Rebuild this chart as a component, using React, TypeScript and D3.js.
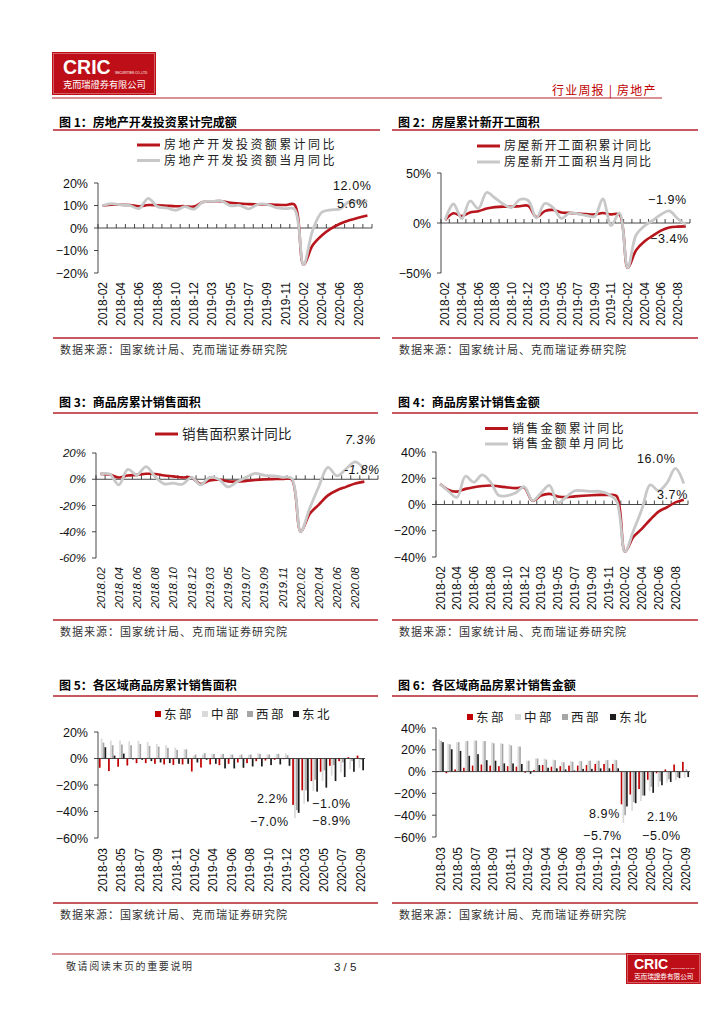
import React from 'react';
import * as d3 from 'd3';

const LINE_RED = '#B5222A';
const SERIES_RED = '#B8161D';
const SERIES_GRAY = '#C8C8C8';
const BAR_RED = '#C00000';
const BAR_LG = '#DADADA';
const BAR_MG = '#A6A6A6';
const BAR_BK = '#1C1C1C';
const LOGO_RED = '#BE0F18';

const CJK = '"Noto Sans CJK SC", "Noto Sans", sans-serif';
const NUM = '"Liberation Sans", Arial, sans-serif';

// ---------- categories ----------
const lineMonths = [
  '2018-02', '2018-03', '2018-04', '2018-05', '2018-06', '2018-07', '2018-08', '2018-09', '2018-10', '2018-11', '2018-12',
  '2019-02', '2019-03', '2019-04', '2019-05', '2019-06', '2019-07', '2019-08', '2019-09', '2019-10', '2019-11', '2019-12',
  '2020-02', '2020-03', '2020-04', '2020-05', '2020-06', '2020-07', '2020-08', '2020-09',
];
const barMonths = [
  '2018-03', '2018-04', '2018-05', '2018-06', '2018-07', '2018-08', '2018-09', '2018-10', '2018-11', '2018-12',
  '2019-02', '2019-03', '2019-04', '2019-05', '2019-06', '2019-07', '2019-08', '2019-09', '2019-10', '2019-11', '2019-12',
  '2020-02', '2020-03', '2020-04', '2020-05', '2020-06', '2020-07', '2020-08', '2020-09',
];

// ---------- chart 1: investment ----------
const invCum = [9.9, 10.4, 10.3, 10.2, 9.7, 10.2, 10.1, 9.9, 9.7, 9.7, 9.5, 11.6, 11.8, 11.9, 11.2, 10.9, 10.6, 10.5, 10.5, 10.3, 10.2, 10.4, -16.3, -7.7, -3.3, -0.3, 1.9, 3.4, 4.6, 5.6];
const invMonth = [9.9, 10.8, 10.3, 10.0, 8.6, 13.2, 9.5, 8.9, 7.9, 9.5, 8.4, 11.6, 11.8, 12.1, 9.9, 10.1, 8.5, 10.5, 10.5, 9.1, 8.6, 8.4, -16.3, -1.1, 7.0, 8.1, 8.5, 11.7, 11.8, 12.0];
const ticks1 = [20, 10, 0, -10, -20];

// ---------- chart 2: new starts ----------
const startCum = [2.9, 9.7, 7.0, 10.5, 11.8, 14.4, 15.9, 16.4, 16.3, 16.8, 17.2, 6.0, 11.9, 13.1, 10.5, 10.1, 9.5, 8.9, 8.6, 10.0, 8.6, 8.5, -44.9, -27.2, -18.4, -12.8, -7.6, -4.5, -3.6, -3.4];
const startMonth = [2.9, 19.0, 4.4, 22.0, 14.5, 30.5, 25.0, 19.0, 15.5, 23.5, 22.5, 5.0, 19.5, 15.5, 4.5, 10.0, 9.0, 7.5, 6.5, 24.0, -2.5, 10.0, -44.9, -12.0, -3.0, 2.5, 8.5, 12.0, 4.5, -1.9];
const ticks2 = [50, 0, -50];

// ---------- chart 3: sales area ----------
const areaCum = [4.1, 3.6, 1.3, 2.9, 3.3, 4.2, 4.0, 2.9, 2.2, 1.4, 1.3, -3.6, -0.9, -0.3, -1.6, -1.8, -1.3, -0.6, -0.1, 0.1, 0.2, -0.1, -39.9, -26.3, -19.3, -12.3, -8.4, -5.8, -3.3, -1.8];
const areaMonth = [4.1, 4.0, -4.3, 7.5, 3.3, 9.6, 2.0, -3.5, -3.0, -3.8, 1.5, -4.3, 1.5, 0.0, -5.8, -2.0, 1.5, 4.5, 3.0, 2.5, 1.5, 0.8, -39.9, -22.0, -5.5, 9.0, 2.5, 8.0, 13.3, 7.3];
const ticks3 = [20, 0, -20, -40, -60];

// ---------- chart 4: sales amount ----------
const amtCum = [15.6, 11.0, 9.8, 11.9, 13.2, 14.1, 14.5, 13.8, 13.0, 12.5, 12.8, 2.8, 6.8, 8.1, 6.1, 5.6, 6.2, 6.7, 7.1, 7.3, 7.3, 6.5, -35.9, -24.7, -18.6, -11.6, -5.4, -2.1, 1.6, 3.7];
const amtMonth = [15.6, 10.0, 5.5, 21.5, 17.0, 22.5, 17.0, 6.8, 6.8, 9.0, 13.5, 3.0, 8.8, 14.5, 1.3, 5.8, 10.5, 10.5, 10.0, 10.0, 8.0, 2.5, -35.9, -20.0, -3.8, 15.0, 10.5, 16.5, 27.5, 16.0];
const ticks4 = [40, 20, 0, -20, -40];

// ---------- chart 5: regional sales area ----------
const east5 = [-7.0, -9.5, -6.2, -5.3, -3.5, -3.5, -4.0, -4.5, -4.8, -4.5, -9.8, -6.8, -4.5, -5.0, -4.0, -3.0, -3.5, -2.0, -1.5, -1.0, -0.5, -35.0, -24.0, -17.0, -10.0, -5.5, -2.0, 1.0, 2.2];
const central5 = [15.0, 13.5, 13.5, 13.0, 13.5, 12.5, 11.0, 10.0, 8.3, 7.0, 2.0, 3.0, 3.5, 3.0, 3.0, 2.5, 3.0, 4.0, 3.0, 3.5, 4.0, -45.0, -34.0, -24.5, -17.0, -13.0, -10.5, -8.0, -7.0];
const west5 = [12.0, 10.0, 10.5, 10.0, 11.0, 9.5, 9.0, 8.0, 6.5, 6.9, 3.0, 4.0, 3.5, 3.5, 3.0, 3.0, 3.0, 3.5, 3.0, 3.5, 2.5, -39.0, -24.0, -16.0, -9.0, -5.0, -3.0, -2.0, -1.0];
const ne5 = [8.5, 2.2, 3.7, -0.7, -1.0, -2.0, -3.0, -3.5, -4.0, -4.0, -3.0, -1.0, -4.0, -7.5, -7.5, -7.0, -6.0, -6.0, -5.0, -4.5, -5.5, -41.0, -32.5, -25.0, -22.0, -17.0, -14.0, -10.0, -8.9];
const ticks5 = [20, 0, -20, -40, -60];

// ---------- chart 6: regional sales amount ----------
const east6 = [-0.5, -1.5, 2.0, 3.5, 5.5, 6.5, 5.5, 5.0, 5.0, 4.5, -1.0, 1.5, 6.0, 4.5, 5.0, 5.5, 5.5, 6.0, 7.0, 7.0, 7.0, -30.0, -21.0, -16.0, -7.5, -1.5, 2.0, 6.5, 8.9];
const central6 = [29.5, 25.5, 27.0, 28.0, 28.5, 28.0, 27.0, 26.0, 25.0, 23.0, 10.0, 12.0, 12.0, 11.0, 9.0, 9.5, 10.0, 10.0, 10.0, 10.5, 11.0, -47.0, -36.0, -27.0, -18.0, -14.0, -10.0, -8.0, -5.7];
const west6 = [28.0, 25.0, 27.0, 28.0, 28.5, 28.0, 26.0, 25.5, 24.0, 23.0, 10.0, 12.0, 11.0, 10.5, 8.5, 9.0, 9.5, 10.0, 10.0, 10.5, 10.5, -40.0, -28.0, -22.0, -14.0, -9.0, -7.0, -5.0, 2.1];
const ne6 = [27.0, 20.5, 19.0, 14.5, 16.0, 10.5, 10.0, 7.5, 7.5, 7.0, -2.0, 6.0, 3.5, 3.0, 2.0, 1.0, 2.5, 2.5, 3.0, 3.0, 3.0, -32.0, -29.0, -22.0, -19.5, -12.5, -9.5, -6.0, -5.0];
const ticks6 = [40, 20, 0, -20, -40, -60];

const regions = ['东部', '中部', '西部', '东北'];
const regionColors = [BAR_RED, BAR_LG, BAR_MG, BAR_BK];

const pctLabel = (v: number) => (v < 0 ? '\u2212' + Math.abs(v) : String(v)) + '%';
const pctHyphen = (v: number) => (v < 0 ? '-' + Math.abs(v) : String(v)) + '%';

type Series = { values: number[]; color: string };
type Ann = { text: string; x: number; y: number };

function LineChart(p: {
  x0: number; x1: number; slots: number; yTop: number; yBottom: number;
  domain: [number, number]; ticks: number[]; fmt: (v: number) => string;
  cats: string[]; dotted?: boolean; italic?: boolean;
  series: Series[]; anns: Ann[];
}) {
  const x = d3.scaleBand<number>().domain(d3.range(p.slots)).range([p.x0, p.x1]);
  const y = d3.scaleLinear().domain(p.domain).range([p.yBottom, p.yTop]);
  const cx = (i: number) => (x(i) as number) + x.bandwidth() / 2;
  const line = d3.line<number>().x((_, i) => cx(i)).y((d) => y(d)).curve(d3.curveCatmullRom.alpha(0.5));
  const y0 = y(0);
  const style = p.italic ? 'italic' : 'normal';
  const boundaries = d3.range(p.slots + 1).map((i) => (i < p.slots ? (x(i) as number) : p.x1));
  return (
    <g>
      <line x1={p.x0} x2={p.x0} y1={p.yTop} y2={p.yBottom} stroke="#333" strokeWidth={0.9} />
      {p.ticks.map((t) => (
        <g key={t}>
          <line x1={p.x0 - 4} x2={p.x0} y1={y(t)} y2={y(t)} stroke="#333" strokeWidth={0.9} />
          <text x={p.x0 - 10} y={y(t)} dy="0.36em" textAnchor="end" fontFamily={NUM} fontSize={p.italic ? 11.5 : 12.5} fontStyle={style} fill="#111">
            {p.fmt(t)}
          </text>
        </g>
      ))}
      <line x1={p.x0} x2={p.x1} y1={y0} y2={y0} stroke="#333" strokeWidth={0.9} />
      {boundaries.map((bx, i) => (
        <line key={i} x1={bx} x2={bx} y1={y0 - 4} y2={y0} stroke="#333" strokeWidth={0.9} />
      ))}
      {p.cats.map((c, i) =>
        i % 2 === 0 ? (
          <text key={c} transform={`translate(${cx(i)},${p.yBottom + 9}) rotate(-90)`} textAnchor="end" dy="0.36em"
            fontFamily={NUM} fontSize={p.italic ? 11.5 : 12} fontStyle={style} fill="#111">
            {p.dotted ? c.replace('-', '.') : c}
          </text>
        ) : null,
      )}
      {p.series.map((s, k) => (
        <path key={k} d={line(s.values) || ''} fill="none" stroke={s.color} strokeWidth={k === 0 ? 2.6 : 2.8} strokeLinejoin="round" />
      ))}
      {p.anns.map((a, k) => (
        <text key={k} x={a.x} y={a.y} fontFamily={NUM} fontSize={12.5} fontStyle={style} letterSpacing={0.6} fill="#111">
          {a.text}
        </text>
      ))}
    </g>
  );
}

function BarChart(p: {
  x0: number; x1: number; yTop: number; yBottom: number; domain: [number, number];
  ticks: number[]; cats: string[]; series: number[][]; anns: Ann[];
}) {
  const x = d3.scaleBand<string>().domain(p.cats).range([p.x0, p.x1]);
  const inner = d3.scaleBand<number>().domain([0, 1, 2, 3]).range([0, x.bandwidth()]).paddingOuter(0.45).paddingInner(0);
  const y = d3.scaleLinear().domain(p.domain).range([p.yBottom, p.yTop]);
  const y0 = y(0);
  return (
    <g>
      {p.series.map((vals, k) =>
        vals.map((v, i) => {
          const bx = (x(p.cats[i]) as number) + (inner(k) as number);
          return (
            <rect key={k + '-' + i} x={bx} width={inner.bandwidth() * 0.92} y={Math.min(y(v), y0)} height={Math.abs(y(v) - y0)} fill={regionColors[k]} />
          );
        }),
      )}
      <line x1={p.x0} x2={p.x0} y1={p.yTop} y2={p.yBottom} stroke="#333" strokeWidth={0.9} />
      {p.ticks.map((t) => (
        <g key={t}>
          <line x1={p.x0 - 4} x2={p.x0} y1={y(t)} y2={y(t)} stroke="#333" strokeWidth={0.9} />
          <text x={p.x0 - 10} y={y(t)} dy="0.36em" textAnchor="end" fontFamily={NUM} fontSize={12.5} fill="#111">
            {pctLabel(t)}
          </text>
        </g>
      ))}
      <line x1={p.x0} x2={p.x1} y1={y0} y2={y0} stroke="#333" strokeWidth={0.9} />
      {p.cats.map((c, i) =>
        i % 2 === 0 ? (
          <text key={c} transform={`translate(${(x(c) as number) + x.bandwidth() / 2},${p.yBottom + 10}) rotate(-90)`} textAnchor="end" dy="0.36em"
            fontFamily={NUM} fontSize={12} fill="#111">
            {c}
          </text>
        ) : null,
      )}
      {p.anns.map((a, k) => (
        <text key={k} x={a.x} y={a.y} fontFamily={NUM} fontSize={12.5} letterSpacing={0.6} fill="#111">
          {a.text}
        </text>
      ))}
    </g>
  );
}

function LineLegend(p: { x: number; y: number; gap: number; items: Series[]; labels: string[]; size: number; spacing: number }) {
  return (
    <g>
      {p.labels.map((l, i) => (
        <g key={l}>
          <line x1={p.x} x2={p.x + 23} y1={p.y + i * p.gap} y2={p.y + i * p.gap} stroke={p.items[i].color} strokeWidth={3} />
          <text x={p.x + 27} y={p.y + i * p.gap} dy="0.36em" fontFamily={CJK} fontSize={p.size} letterSpacing={p.spacing} fill="#222">
            {l}
          </text>
        </g>
      ))}
    </g>
  );
}

function BarLegend(p: { xs: number[]; y: number }) {
  return (
    <g>
      {regions.map((r, i) => (
        <g key={r}>
          <rect x={p.xs[i]} y={p.y - 3} width={6} height={6} fill={regionColors[i]} />
          <text x={p.xs[i] + 9} y={p.y} dy="0.36em" fontFamily={CJK} fontSize={12.5} letterSpacing={2.5} fill="#222">
            {r}
          </text>
        </g>
      ))}
    </g>
  );
}

function Panel(p: { x: number; w: number; title: string; titleY: number; sepY: number; srcY: number }) {
  return (
    <g>
      <text x={p.x + 6} y={p.titleY} fontFamily={CJK} fontWeight={700} fontSize={12} fill="#000">
        {p.title}
      </text>
      <line x1={p.x} x2={p.x + p.w} y1={p.sepY} y2={p.sepY} stroke={LINE_RED} strokeWidth={1.6} />
      <line x1={p.x} x2={p.x + p.w} y1={p.srcY} y2={p.srcY} stroke={LINE_RED} strokeWidth={1.6} />
      <text x={p.x + 7} y={p.srcY + 16} fontFamily={CJK} fontSize={11} letterSpacing={1} fill="#333">
        数据来源：国家统计局、克而瑞证券研究院
      </text>
    </g>
  );
}

function Logo(p: { x: number; y: number; s: number }) {
  const s = p.s;
  const w = 104 * s;
  const h = 43 * s;
  return (
    <g>
      <rect x={p.x} y={p.y} width={w} height={h} fill={LOGO_RED} />
      <rect x={p.x + 1.6} y={p.y + 1.6} width={w - 3.2} height={h - 3.2} fill="none" stroke="#fff" strokeOpacity={0.55} strokeWidth={0.6} />
      <text x={p.x + 11 * s} y={p.y + 22.3 * s} fontFamily={NUM} fontWeight={700} fontSize={19.5 * s} fill="#fff">CRIC</text>
      <text x={p.x + 63 * s} y={p.y + 22 * s} fontFamily={NUM} fontSize={3.2 * s} fill="#fff">SECURITIES CO.,LTD</text>
      <text x={p.x + 11 * s} y={p.y + 36 * s} fontFamily={CJK} fontSize={9.2 * s} fill="#fff">克而瑞證券有限公司</text>
    </g>
  );
}

const legend5X = [155, 202, 247, 293];
const legend6X = [467, 515, 562, 610];

export default function App() {
  return (
    <svg width={724} height={1024} viewBox="0 0 724 1024" style={{ position: 'absolute', left: 0, top: 0, background: '#fff' }}>
      <rect width={724} height={1024} fill="#fff" />
      {/* header */}
      <Logo x={52} y={52} s={1} />
      <text x={552} y={95} fontFamily={CJK} fontSize={12} letterSpacing={1.2} fill={BAR_RED}>行业周报 | 房地产</text>
      <line x1={52} x2={662} y1={98} y2={98} stroke={LINE_RED} strokeWidth={1.2} />

      {/* panels */}
      <Panel x={53} w={327} title="图 1：房地产开发投资累计完成额" titleY={127} sepY={130} srcY={338} />
      <Panel x={392} w={306} title="图 2：房屋累计新开工面积" titleY={127} sepY={130} srcY={338} />
      <Panel x={53} w={325} title="图 3：商品房累计销售面积" titleY={407} sepY={413} srcY={620} />
      <Panel x={392} w={306} title="图 4：商品房累计销售金额" titleY={407} sepY={413} srcY={620} />
      <Panel x={53} w={325} title="图 5：各区域商品房累计销售面积" titleY={690} sepY={696} srcY={903} />
      <Panel x={392} w={306} title="图 6：各区域商品房累计销售金额" titleY={690} sepY={696} srcY={903} />

      {/* chart 1 */}
      <LineLegend x={137} y={145} gap={15.5} size={12} spacing={2.4}
        items={[{ values: invCum, color: SERIES_RED }, { values: invMonth, color: SERIES_GRAY }]}
        labels={['房地产开发投资额累计同比', '房地产开发投资额当月同比']} />
      <LineChart x0={98} x1={372} slots={30} yTop={183} yBottom={273} domain={[-20, 20]} ticks={ticks1} fmt={pctLabel}
        cats={lineMonths}
        series={[{ values: invCum, color: SERIES_RED }, { values: invMonth, color: SERIES_GRAY }]}
        anns={[{ text: '12.0%', x: 333, y: 190 }, { text: '5.6%', x: 337, y: 208 }]} />

      {/* chart 2 */}
      <LineLegend x={477} y={146} gap={16} size={12} spacing={1.5}
        items={[{ values: startCum, color: SERIES_RED }, { values: startMonth, color: SERIES_GRAY }]}
        labels={['房屋新开工面积累计同比', '房屋新开工面积当月同比']} />
      <LineChart x0={441} x1={690} slots={30} yTop={173} yBottom={273} domain={[-50, 50]} ticks={ticks2} fmt={pctLabel}
        cats={lineMonths}
        series={[{ values: startCum, color: SERIES_RED }, { values: startMonth, color: SERIES_GRAY }]}
        anns={[{ text: '\u22121.9%', x: 648, y: 204 }, { text: '\u22123.4%', x: 650, y: 243 }]} />

      {/* chart 3 */}
      <LineLegend x={155} y={434} gap={0} size={13.5} spacing={0.2}
        items={[{ values: areaCum, color: SERIES_RED }]}
        labels={['销售面积累计同比']} />
      <LineChart x0={96} x1={378} slots={31} yTop={453} yBottom={558} domain={[-60, 20]} ticks={ticks3} fmt={pctHyphen}
        cats={lineMonths} dotted italic
        series={[{ values: areaCum, color: SERIES_RED }, { values: areaMonth, color: SERIES_GRAY }]}
        anns={[{ text: '7.3%', x: 345, y: 444 }, { text: '-1.8%', x: 344, y: 474 }]} />

      {/* chart 4 */}
      <LineLegend x={485} y={428.5} gap={15.5} size={12} spacing={2.2}
        items={[{ values: amtCum, color: SERIES_RED }, { values: amtMonth, color: SERIES_GRAY }]}
        labels={['销售金额累计同比', '销售金额单月同比']} />
      <LineChart x0={436} x1={688} slots={30} yTop={452} yBottom={557} domain={[-40, 40]} ticks={ticks4} fmt={pctLabel}
        cats={lineMonths}
        series={[{ values: amtCum, color: SERIES_RED }, { values: amtMonth, color: SERIES_GRAY }]}
        anns={[{ text: '16.0%', x: 637, y: 463 }, { text: '3.7%', x: 657, y: 499 }]} />

      {/* chart 5 */}
      <BarLegend xs={legend5X} y={714} />
      <BarChart x0={98} x1={365} yTop={732} yBottom={838} domain={[-60, 20]} ticks={ticks5} cats={barMonths}
        series={[east5, central5, west5, ne5]}
        anns={[{ text: '2.2%', x: 257, y: 803 }, { text: '\u22127.0%', x: 250, y: 826 }, { text: '\u22121.0%', x: 312, y: 808 }, { text: '\u22128.9%', x: 312, y: 825 }]} />

      {/* chart 6 */}
      <BarLegend xs={legend6X} y={717} />
      <BarChart x0={436} x1={690} yTop={728} yBottom={837} domain={[-60, 40]} ticks={ticks6} cats={barMonths}
        series={[east6, central6, west6, ne6]}
        anns={[{ text: '8.9%', x: 589, y: 818 }, { text: '\u22125.7%', x: 583, y: 840 }, { text: '2.1%', x: 647, y: 821 }, { text: '\u22125.0%', x: 642, y: 840 }]} />

      {/* footer */}
      <line x1={52} x2={662} y1={954} y2={954} stroke={LINE_RED} strokeWidth={1.2} />
      <text x={66} y={970} fontFamily={CJK} fontSize={10} letterSpacing={1.6} fill="#333">敬请阅读末页的重要说明</text>
      <text x={334} y={971} fontFamily={NUM} fontSize={11.5} fill="#222">3 / 5</text>
      <Logo x={626} y={953} s={0.72} />
    </svg>
  );
}
